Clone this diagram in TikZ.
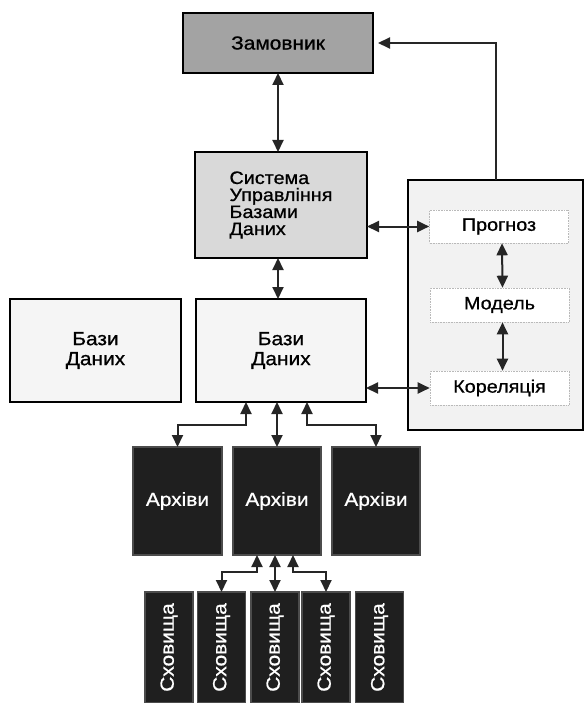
\documentclass[tikz,border=0pt]{standalone}
\usepackage{fontspec}
\setmainfont{Liberation Sans}
\newfontfamily\lab[FakeStretch=1.1,FakeBold=0.8]{Liberation Sans}
\usetikzlibrary{arrows.meta}
\begin{document}
\begin{tikzpicture}[x=1pt,y=-1pt,
  >={Triangle[length=12pt,width=11pt]},
  box/.style={draw=black, line width=1.8pt, inner sep=0pt, outer sep=0pt, align=center},
  big/.style={font=\lab\fontsize{19}{20}\selectfont},
  mid/.style={font=\lab\fontsize{18}{17}\selectfont},
  inner/.style={draw=gray!55, densely dotted, line width=0.6pt, fill=white, inner sep=0pt,
    minimum width=139pt, mid},
  dark/.style={box, draw=black!70, line width=1.2pt, fill=black!88, text=white, big},
  conn/.style={line width=2pt, draw=black!85, <->},
  conn1/.style={line width=2pt, draw=black!85, <-}]
\useasboundingbox (0,0) rectangle (588,703);
% top
\node[box, line width=2.4pt, fill=gray!72, minimum width=190pt, minimum height=60pt, big] (zam) at (278,43) {Замовник};
\node[box, fill=gray!30, minimum width=172pt, minimum height=106pt, align=left, mid] (subd) at (281,205)
  {Система\\Управління\\Базами\\Даних};
% right panel
\node[box, fill=gray!10, minimum width=175pt, minimum height=250pt] (panel) at (495.5,305) {};
\node[inner, minimum height=33pt] (prog) at (499,226.5) {Прогноз};
\node[inner, minimum height=34pt] (model) at (499.5,305) {Модель};
\node[inner, minimum height=34pt] (kor) at (499.5,388) {Кореляція};
% databases
\node[box, fill=gray!8, minimum width=171pt, minimum height=103pt, font=\lab\fontsize{19}{20}\selectfont] (db1) at (95.5,350.5) {Бази\\Даних};
\node[box, fill=gray!8, minimum width=170pt, minimum height=103pt, font=\lab\fontsize{19}{20}\selectfont] (db2) at (281,350.5) {Бази\\Даних};
% archives
\node[dark, minimum width=89pt, minimum height=108pt] (a1) at (177.5,501) {Архіви};
\node[dark, minimum width=88pt, minimum height=108pt] (a2) at (277,501) {Архіви};
\node[dark, minimum width=88pt, minimum height=108pt] (a3) at (376,501) {Архіви};
% storages
\foreach \n/\x in {s1/169,s2/221.5,s3/275,s4/326,s5/379.5}
  \node[dark, rotate=90, minimum width=111pt, minimum height=48pt] (\n) at (\x,647.5) {Сховища};
% connectors
\draw[conn] (zam.south) -- (zam.south |- subd.north);
\draw[conn] (subd.south -| zam.south) -- (db2.north -| zam.south);
\draw[conn] (subd.east |- prog.west) -- (prog.west);
\draw[conn] (db2.east |- kor.west) -- (kor.west);
\draw[conn] ([xshift=3pt]prog.south) -- ([xshift=3pt]model.north);
\draw[conn] ([xshift=3pt]model.south) -- ([xshift=3pt]kor.north);
\draw[conn1] ([xshift=5pt]zam.east) -| (panel.north);
\draw[conn] ([xshift=-35pt]db2.south) -- ++(0,23) -| (a1.north);
\draw[conn] (a2.north) -- (a2.north |- db2.south);
\draw[conn] ([xshift=26pt]db2.south) -- ++(0,23) -| (a3.north);
\draw[conn] (s3.east) -- (s3.east |- a2.south);
\draw[conn] ([xshift=-20pt]a2.south) -- ++(0,17) -| (s2.east);
\draw[conn] ([xshift=16pt]a2.south) -- ++(0,17) -| (s4.east);
\end{tikzpicture}
\end{document}
